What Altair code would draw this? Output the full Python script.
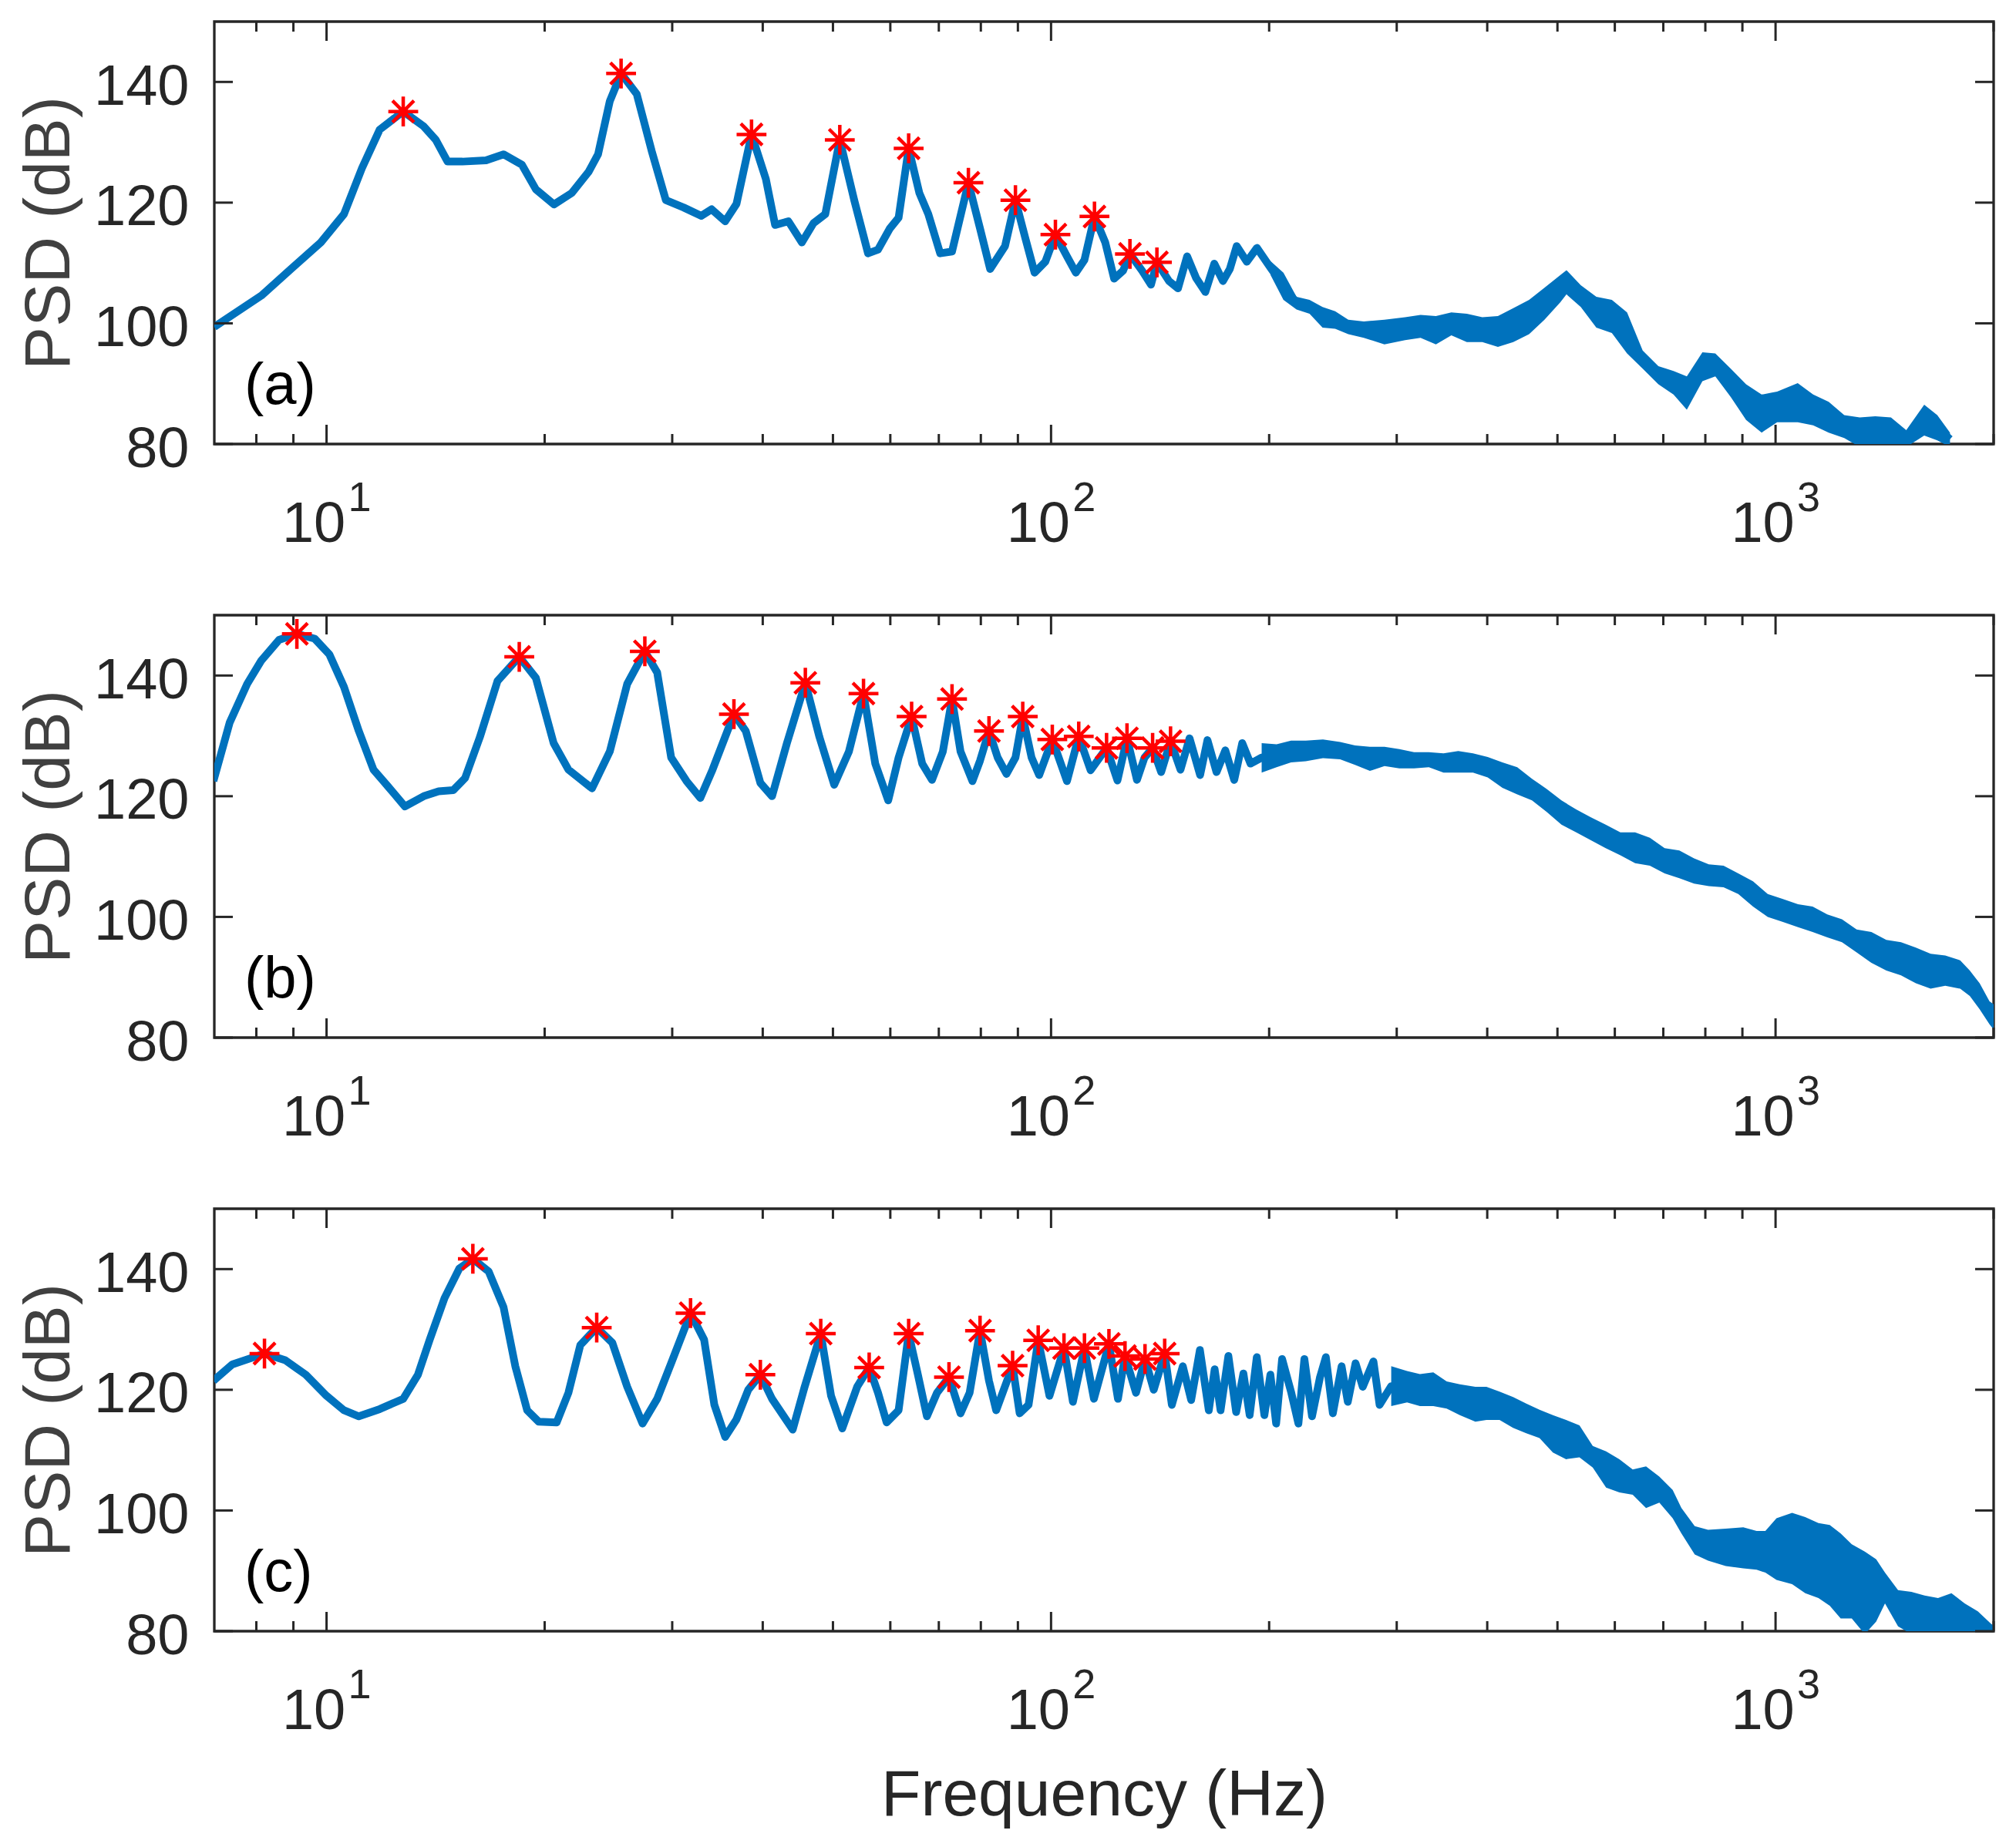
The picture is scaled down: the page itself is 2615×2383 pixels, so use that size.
import altair as alt
import pandas as pd

# ================= data =================
# ---- panel (a): smooth low-frequency part ----
A_LOW_FREQ = [7.0, 8.13, 8.93, 9.82, 10.57, 11.19, 11.84, 12.76, 13.6, 14.15, 14.69, 15.4, 16.6, 17.55, 18.6,
              19.45, 20.6, 21.8, 23.0, 23.7, 24.6, 25.5, 26.8, 28.1, 29.4, 31.1, 32.9, 34.0, 35.5, 36.8,
              38.6, 40.4, 41.6, 43.4, 45.3, 47.0, 48.8, 51.1, 53.5, 55.9, 57.7, 59.9, 61.6, 63.6, 65.8,
              67.7, 70.3, 73.0, 76.9, 79.8, 82.4, 86.4, 89.3, 92.2, 94.9, 98.2, 101.4, 105.2, 108.2,
              111.2, 114.8, 118.8, 122.2, 125.7, 128.5, 133.6, 137.4, 140.0, 145.5, 149.7, 154.1, 158.6,
              163.3, 168.0, 172.7, 176.5, 180.4, 186.3, 192.4]
A_LOW_PSD = [99.4, 104.6, 109.0, 113.4, 118.1, 125.7, 132.1, 135.1, 132.7, 130.4, 126.8, 126.8, 127.0, 128.0, 126.3,
             122.2, 119.7, 121.6, 125.1, 128.0, 136.8, 141.4, 138.0, 128.6, 120.4, 119.2, 117.8, 118.9, 116.9, 119.8,
             131.3, 123.9, 116.3, 116.9, 113.4, 116.6, 118.1, 130.4, 120.4, 111.6, 112.2, 115.7, 117.5, 129.0, 121.6,
             118.1, 111.6, 111.9, 123.3, 115.7, 109.0, 112.8, 120.4, 114.0, 108.4, 110.2, 114.7, 111.1, 108.4,
             110.5, 117.7, 113.4, 107.4, 108.7, 111.5, 108.7, 106.4, 110.1, 107.0, 105.8, 111.1, 107.5,
             105.2, 109.9, 107.0, 109.0, 112.8, 110.2, 112.5]
# ---- panel (a): noisy part, centre and envelope ----
A_BAND_FREQ = [200.9, 209.3, 218.2, 227.4, 237.0, 246.7, 257.2, 270.2, 288.5, 308.1, 323.6, 339.8, 356.9, 374.9,
               393.8, 413.8, 434.5, 456.9, 479.8, 504.7, 514.6, 538.5, 565.8, 594.4, 623.8, 655.6, 689.1, 723.0,
               754.3, 792.6, 825.8, 867.3, 910.6, 956.8, 1005, 1073, 1127, 1184, 1244, 1307, 1373, 1443, 1515,
               1604, 1672, 1741]
A_BAND_MID = [109.2, 106.2, 103.4, 102.8, 101.0, 100.6, 99.4, 99.0, 98.6, 99.1, 99.5, 98.9, 99.9, 99.3,
              99.0, 98.7, 99.7, 101.1, 103.3, 105.8, 106.8, 104.5, 101.9, 101.2, 98.4, 94.0, 91.4, 90.2,
              88.5, 92.8, 93.1, 90.2, 87.0, 85.1, 86.2, 86.9, 85.7, 84.5, 82.9, 82.0, 82.2, 82.0, 81.2,
              84.0, 82.7, 80.8]
A_BAND_HI = [110.3, 108.4, 104.4, 103.9, 102.7, 102.0, 100.6, 100.3, 100.6, 101.0, 101.4, 101.2, 101.8, 101.6,
             101.0, 101.2, 102.5, 103.9, 105.9, 108.0, 108.8, 106.3, 104.4, 103.9, 101.8, 95.5, 92.9, 92.1,
             91.2, 95.2, 95.0, 92.5, 89.9, 88.2, 88.7, 90.1, 88.2, 87.0, 84.8, 84.4, 84.6, 84.4, 82.3,
             86.5, 84.8, 81.9]
A_BAND_LO = [108.0, 103.9, 102.3, 101.6, 99.3, 99.1, 98.2, 97.6, 96.5, 97.2, 97.6, 96.5, 98.0, 96.9,
             96.9, 96.1, 96.9, 98.2, 100.6, 103.5, 104.8, 102.7, 99.3, 98.4, 95.0, 92.5, 89.9, 88.2,
             85.7, 90.4, 91.2, 87.8, 84.0, 81.9, 83.6, 83.6, 83.1, 81.9, 81.0, 79.5, 79.5, 79.5, 79.5,
             81.4, 80.6, 79.5]
A_PEAK_FREQ = [12.76, 25.5, 38.6, 51.1, 63.6, 76.9, 89.3, 101.4, 114.8, 128.5, 140.0]
A_PEAK_PSD = [135.1, 141.4, 131.3, 130.4, 129.0, 123.3, 120.4, 114.7, 117.7, 111.5, 110.1]

# ---- panel (b) ----
B_LOW_FREQ = [6.98, 7.35, 7.77, 8.13, 8.60, 9.10, 9.63, 10.09, 10.57, 11.08, 11.61, 12.18, 12.83, 13.62, 14.28,
              14.96, 15.53, 16.28, 17.22, 18.45, 19.45, 20.58, 21.57, 23.25, 24.6, 26.0, 27.5, 28.6, 29.9,
              31.4, 32.8, 34.1, 36.5, 37.9, 39.7, 41.2, 43.2, 45.8, 47.9, 50.2, 52.6, 55.1, 57.2, 59.6,
              61.6, 64.2, 66.4, 68.5, 70.9, 73.0, 75.0, 77.9, 79.8, 82.1, 84.4, 86.8, 89.3, 91.4, 94.0,
              96.3, 100.4, 105.2, 109.2, 113.4, 119.3, 123.5, 127.3, 131.4, 134.6, 138.1, 141.9, 146.2,
              150.9, 155.3, 160.6, 164.4, 169.2, 174.0, 179.0, 183.6, 188.5]
B_LOW_PSD = [122.5, 132.2, 138.6, 142.5, 145.9, 146.9, 146.1, 143.5, 138.1, 130.8, 124.4, 121.5, 118.3, 120.0, 120.8,
             121.0, 123.0, 129.8, 139.1, 143.1, 139.6, 128.8, 124.4, 121.3, 127.4, 138.6, 144.0, 140.5, 126.4,
             122.5, 119.7, 124.4, 133.6, 130.8, 122.2, 120.0, 128.8, 138.8, 129.8, 121.9, 127.4, 137.0, 125.4, 119.3,
             126.4, 133.2, 125.4, 122.7, 127.4, 136.1, 127.4, 122.5, 125.9, 130.8, 126.4, 123.7, 126.4, 133.2, 126.4,
             123.5, 129.4, 122.5, 129.9, 124.3, 128.0, 122.6, 129.6, 122.7, 126.4, 128.0, 124.0, 129.1,
             124.4, 129.6, 123.5, 129.3, 124.0, 127.6, 122.7, 128.8, 125.4]
B_BAND_FREQ = [195.3, 204.8, 214.4, 224.7, 237.3, 250.6, 262.8, 275.5, 288.6, 302.5, 317.0, 332.2, 348.1,
               364.8, 382.3, 400.6, 419.8, 440.0, 461.1, 483.2, 506.4, 530.7, 556.1, 582.8, 610.7, 640.0,
               670.7, 702.9, 736.6, 771.9, 808.9, 847.7, 888.3, 930.9, 975.5, 1022, 1074, 1125, 1179, 1235,
               1294, 1356, 1422, 1490, 1562, 1637, 1715, 1798, 1854, 1913, 1974, 2019]
B_BAND_MID = [126.4, 126.7, 127.4, 127.5, 127.9, 127.6, 126.8, 126.2, 126.6, 126.2, 126.0, 126.1, 125.5,
              125.7, 125.5, 124.8, 123.5, 122.6, 121.1, 119.3, 117.3, 115.9, 114.6, 113.4, 112.1, 111.5,
              110.8, 109.3, 108.7, 107.6, 106.9, 106.7, 105.5, 103.8, 101.9, 101.1, 100.2, 99.6, 98.5, 97.7,
              96.0, 95.0, 93.7, 93.1, 92.0, 91.0, 91.1, 90.5, 89.0, 86.9, 84.1, 83.0]
B_BAND_HI = [128.8, 128.6, 129.2, 129.2, 129.4, 129.0, 128.4, 128.2, 128.2, 127.8, 127.3, 127.3, 127.1,
             127.5, 127.1, 126.5, 125.6, 124.8, 122.9, 121.2, 119.3, 117.8, 116.5, 115.3, 114.0, 114.0,
             113.1, 111.4, 111.0, 109.7, 108.7, 108.5, 107.2, 105.9, 103.8, 103.0, 102.1, 101.7, 100.4, 99.6,
             97.9, 97.5, 96.2, 95.8, 94.9, 93.9, 93.6, 92.8, 91.1, 89.0, 86.0, 85.2]
B_BAND_LO = [123.9, 124.8, 125.6, 125.8, 126.3, 126.1, 125.2, 124.2, 125.0, 124.6, 124.6, 124.8, 123.9,
             123.9, 123.9, 123.1, 121.4, 120.3, 119.3, 117.4, 115.3, 114.0, 112.7, 111.4, 110.2, 108.9,
             108.5, 107.2, 106.4, 105.5, 105.1, 104.9, 103.8, 101.7, 100.0, 99.2, 98.3, 97.5, 96.6, 95.8,
             94.1, 92.4, 91.1, 90.3, 89.0, 88.1, 88.6, 88.1, 86.9, 84.7, 82.2, 80.7]
B_PEAK_FREQ = [9.10, 18.45, 27.5, 36.5, 45.8, 55.1, 64.2, 73.0, 82.1, 91.4, 100.4, 109.2, 119.3, 127.3, 138.1, 146.2]
B_PEAK_PSD = [146.9, 143.1, 144.0, 133.6, 138.8, 137.0, 133.2, 136.1, 130.8, 133.2, 129.4, 129.9, 128.0, 129.6, 128.0, 129.1]

# ---- panel (c) ----
C_LOW_FREQ = [6.98, 7.41, 8.21, 8.77, 9.36, 10.0, 10.57, 11.08, 11.84, 12.76, 13.37, 13.88, 14.55, 15.25, 15.92,
              16.74, 17.55, 18.22, 18.92, 19.63, 20.78, 21.57, 22.4, 23.6, 24.8, 26.0, 27.3, 28.6, 29.9, 31.8,
              33.2, 34.3, 35.5, 36.8, 38.2, 39.7, 41.2, 44.0, 45.7, 48.1, 49.7, 51.5, 54.0, 56.1, 57.7, 59.3,
              61.6, 63.6, 65.5, 67.4, 69.6, 72.3, 75.0, 77.2, 79.8, 82.1, 84.0, 88.5, 90.5, 93.1, 96.0, 99.5,
              104.2, 107.2, 111.2, 114.6, 120.2, 123.7, 126.5, 131.0, 134.8, 138.6, 143.5, 146.8, 152.0,
              156.1, 160.5, 165.1, 168.2, 171.4, 175.7, 180.1, 184.3, 188.0, 192.3, 197.0, 200.8, 204.5,
              208.4, 214.6, 219.5, 223.7, 229.2, 235.0, 239.5, 244.9, 251.8, 256.8, 263.2, 269.3, 278.6,
              284.1]
C_LOW_PSD = [121.5, 124.2, 126.0, 124.9, 122.5, 119.0, 116.6, 115.6, 116.8, 118.5, 122.5, 128.3, 135.2, 140.1, 141.7,
             139.6, 133.7, 123.9, 116.6, 114.7, 114.6, 119.5, 127.4, 130.3, 127.8, 120.5, 114.4, 118.5, 124.4, 132.7,
             128.3, 117.5, 112.2, 115.1, 120.0, 122.5, 118.5, 113.4, 120.5, 129.3, 119.0, 113.6, 120.5, 123.7, 119.5, 114.6,
             116.6, 129.3, 122.5, 115.6, 119.5, 122.1, 116.1, 119.5, 129.8, 121.5, 116.6, 124.0, 116.1, 117.5, 128.2, 119.0,
             126.9, 118.0, 126.9, 118.5, 127.6, 118.5, 125.6, 119.5, 125.1, 120.0, 126.0, 117.5, 123.9,
             118.3, 126.6, 116.6, 123.4, 116.6, 125.6, 116.3, 122.7, 115.8, 125.4, 115.8, 122.5, 114.4,
             125.1, 119.5, 114.4, 125.1, 115.6, 122.0, 125.4, 116.1, 123.9, 118.0, 124.4, 120.5, 124.7,
             117.5]
C_BAND_FREQ = [294.8, 310.0, 323.0, 337.0, 351.6, 366.6, 385.2, 399.0, 416.0, 434.2, 452.8, 472.3, 492.8,
               514.0, 536.2, 559.4, 583.6, 608.8, 635.1, 662.6, 691.2, 721.1, 741.5, 773.5, 807.0, 853.6,
               902.5, 941.6, 968.2, 1003, 1054, 1099, 1146, 1188, 1230, 1274, 1328, 1377, 1416, 1476, 1540,
               1606, 1676, 1749, 1824, 1902, 1984, 2014]
C_BAND_MID = [120.6, 120.5, 120.0, 120.1, 119.2, 118.4, 117.6, 117.8, 117.4, 116.3, 115.3, 114.4, 112.7,
              111.8, 111.5, 108.9, 106.8, 105.8, 104.7, 103.9, 103.5, 101.1, 98.3, 95.1, 94.3, 93.9,
              93.8, 93.4, 93.2, 93.6, 93.7, 92.6, 91.7, 90.9, 89.2, 88.3, 86.4, 86.8, 87.2, 83.8, 83.0,
              82.7, 82.5, 82.9, 82.1, 81.4, 80.4, 80.1]
C_BAND_HI = [123.9, 123.1, 122.6, 122.9, 121.4, 120.9, 120.5, 120.5, 119.7, 118.8, 117.7, 116.7, 115.8,
             115.0, 114.1, 110.7, 109.8, 108.5, 106.8, 107.3, 105.6, 103.4, 100.4, 97.4, 96.8, 97.0,
             97.2, 96.6, 96.6, 98.7, 99.6, 98.9, 97.9, 97.6, 96.2, 94.4, 93.2, 91.9, 89.7, 86.8, 86.5,
             85.9, 85.5, 86.3, 84.6, 83.3, 81.2, 80.6]
C_BAND_LO = [117.3, 117.9, 117.3, 117.3, 116.9, 115.8, 114.7, 115.0, 115.0, 113.7, 112.8, 112.0, 109.6,
             108.5, 108.8, 107.1, 103.8, 103.0, 102.6, 100.4, 101.3, 98.7, 96.2, 92.7, 91.7, 90.8,
             90.4, 90.2, 89.7, 88.5, 87.8, 86.3, 85.5, 84.2, 82.1, 82.1, 79.5, 81.6, 84.6, 80.8, 79.5,
             79.5, 79.5, 79.5, 79.5, 79.5, 79.5, 79.5]
C_PEAK_FREQ = [8.21, 15.92, 23.6, 31.8, 39.7, 48.1, 56.1, 63.6, 72.3, 79.8, 88.5, 96.0, 104.2, 111.2,
               120.2, 126.5, 134.8, 143.5]
C_PEAK_PSD = [126.0, 141.7, 130.3, 132.7, 122.5, 129.3, 123.7, 129.3, 122.1, 129.8, 124.0, 128.2, 126.9, 126.9,
              127.6, 125.6, 125.1, 126.0]

PANEL_LABELS = ["(a)", "(b)", "(c)"]
LABEL_FREQ = 7.7
LABEL_PSD = 89.6

X_DOMAIN = [7, 2000]
Y_DOMAIN = [80, 150]
X_MAJOR = [10, 100, 1000]
X_EXPONENT = ["1", "2", "3"]
X_MINOR = [8, 9, 20, 30, 40, 50, 60, 70, 80, 90, 200, 300, 400, 500, 600, 700, 800, 900, 2000]
Y_TICKS = [80, 100, 120, 140]

# ================= style =================
W, H = 2308, 548
BLUE = "#0072BD"
RED = "#FF0000"
AXC = "#262626"
FONT = "Liberation Sans"
ASTERISK = "M-1,0L1,0M0,-1L0,1M-0.72,-0.72L0.72,0.72M-0.72,0.72L0.72,-0.72"


def panel(low_f, low_p, band_f, band_mid, band_lo, band_hi, pfreq, ppsd, label, last):
    xs = alt.Scale(type="log", domain=X_DOMAIN, nice=False)
    ys = alt.Scale(domain=Y_DOMAIN, nice=False, zero=False)

    xaxis_kw = dict(values=X_MAJOR, labelExpr="'10'", labelFont=FONT, labelFontSize=74,
                    labelColor=AXC, labelPadding=126, labelBaseline="alphabetic", labelOffset=-17,
                    ticks=False, tickSize=0, domain=False, grid=False, labelFlush=False,
                    labelOverlap=False)
    if last:
        xaxis_kw.update(title="Frequency (Hz)", titleFont=FONT, titleFontSize=84,
                        titleFontWeight="normal", titleColor=AXC, titleY=238,
                        titleBaseline="alphabetic")
    else:
        xaxis_kw.update(title=None)
    xaxis = alt.Axis(**xaxis_kw)
    yaxis = alt.Axis(values=Y_TICKS, labelFont=FONT, labelFontSize=74, labelColor=AXC,
                     labelPadding=33, labelBaseline="alphabetic", labelOffset=29,
                     ticks=False, tickSize=0, domain=False, grid=False, labelFlush=False,
                     labelOverlap=False,
                     title="PSD (dB)", titleFont=FONT, titleFontSize=84, titleFontWeight="normal",
                     titleColor="#404040", titleX=-189, titleBaseline="alphabetic")

    def X(field="f"):
        return alt.X(f"{field}:Q", scale=xs, axis=xaxis)

    def Y(field="p"):
        return alt.Y(f"{field}:Q", scale=ys, axis=yaxis)

    line_df = pd.DataFrame({"f": low_f + band_f, "p": low_p + band_mid})
    band_df = pd.DataFrame({"f": band_f, "lo": band_lo, "hi": band_hi})
    peak_df = pd.DataFrame({"f": pfreq, "p": ppsd})
    major_df = pd.DataFrame({"f": X_MAJOR, "e": X_EXPONENT})
    minor_df = pd.DataFrame({"f": X_MINOR})
    ytick_df = pd.DataFrame({"p": Y_TICKS})
    label_df = pd.DataFrame({"f": [LABEL_FREQ], "p": [LABEL_PSD], "t": [label]})

    line = alt.Chart(line_df).mark_line(color=BLUE, strokeWidth=10, clip=True,
                                         strokeJoin="round").encode(x=X(), y=Y())
    band = alt.Chart(band_df).mark_area(color=BLUE, opacity=1, clip=True).encode(
        x=X(), y=Y("lo"), y2="hi:Q")
    peaks = alt.Chart(peak_df).mark_point(shape=ASTERISK, size=1500, filled=False,
                                          stroke=RED, strokeWidth=4.5, opacity=1).encode(x=X(), y=Y())
    text = alt.Chart(label_df).mark_text(font=FONT, fontSize=76, align="left",
                                         baseline="middle", color="black").encode(
        x=X(), y=Y(), text="t:N")
    expo = alt.Chart(major_df).mark_text(font=FONT, fontSize=54, align="center",
                                         baseline="alphabetic", dx=43, color=AXC).encode(
        x=X(), y=alt.value(H + 87), text="e:N")
    ts = dict(color=AXC, strokeWidth=3)
    top_major = alt.Chart(major_df).mark_rule(**ts).encode(x=X(), y=alt.value(0), y2=alt.value(25))
    bot_major = alt.Chart(major_df).mark_rule(**ts).encode(x=X(), y=alt.value(H), y2=alt.value(H - 25))
    top_minor = alt.Chart(minor_df).mark_rule(**ts).encode(x=X(), y=alt.value(0), y2=alt.value(13))
    bot_minor = alt.Chart(minor_df).mark_rule(**ts).encode(x=X(), y=alt.value(H), y2=alt.value(H - 13))
    left_t = alt.Chart(ytick_df).mark_rule(**ts).encode(y=Y(), x=alt.value(0), x2=alt.value(24))
    right_t = alt.Chart(ytick_df).mark_rule(**ts).encode(y=Y(), x=alt.value(W), x2=alt.value(W - 24))

    return alt.layer(line, band, top_major, bot_major, top_minor, bot_minor, left_t, right_t,
                     peaks, text, expo).properties(width=W, height=H)


pa = panel(A_LOW_FREQ, A_LOW_PSD, A_BAND_FREQ, A_BAND_MID, A_BAND_LO, A_BAND_HI,
           A_PEAK_FREQ, A_PEAK_PSD, PANEL_LABELS[0], False)
pb = panel(B_LOW_FREQ, B_LOW_PSD, B_BAND_FREQ, B_BAND_MID, B_BAND_LO, B_BAND_HI,
           B_PEAK_FREQ, B_PEAK_PSD, PANEL_LABELS[1], False)
pc = panel(C_LOW_FREQ, C_LOW_PSD, C_BAND_FREQ, C_BAND_MID, C_BAND_LO, C_BAND_HI,
           C_PEAK_FREQ, C_PEAK_PSD, PANEL_LABELS[2], True)

chart = alt.vconcat(pa, pb, pc, spacing=222, bounds="flush").properties(
    padding={"left": 12, "top": 16, "right": 12, "bottom": 6},
    background="white",
).configure_view(stroke=AXC, strokeWidth=3.3)

chart.save("out.html", embed_options={"renderer": "svg", "actions": False})
